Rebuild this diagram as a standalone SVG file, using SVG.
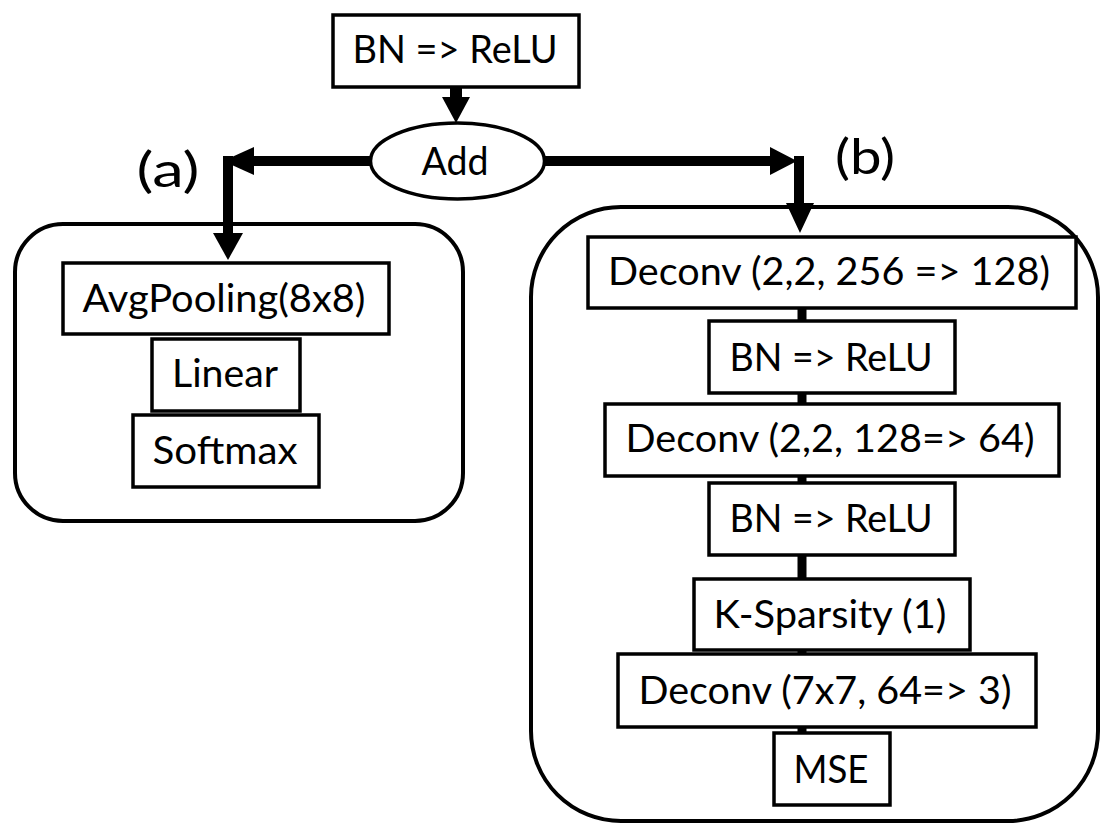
<svg xmlns="http://www.w3.org/2000/svg" width="1101" height="823" viewBox="0 0 1101 823">
  <style>
    .box { fill: #ffffff; stroke: #000000; stroke-width: 3.5; }
    .group { fill: #ffffff; stroke: #000000; stroke-width: 4; }
    .lbl { font-family: Lato, "Open Sans", sans-serif; font-size: 39px; fill: #000000; text-anchor: middle; }
    .tag { font-family: Lato, "Open Sans", sans-serif; font-size: 48px; fill: #000000; text-anchor: middle; }
    .wire { stroke: #000000; fill: none; }
    .head { fill: #000000; stroke: none; }
  </style>

  <!-- branch containers -->
  <g id="branch-a">
    <rect class="group" x="15" y="224" width="448" height="297" rx="48" ry="48"/>
    <text class="tag" x="168" y="187" textLength="63" lengthAdjust="spacingAndGlyphs">(a)</text>
  </g>
  <g id="branch-b">
    <rect class="group" x="531" y="207" width="567" height="614" rx="90" ry="90"/>
    <text class="tag" x="865" y="174" textLength="60" lengthAdjust="spacingAndGlyphs">(b)</text>
  </g>

  <!-- connectors -->
  <g id="connectors">
    <!-- BN => ReLU to Add -->
    <line class="wire" x1="456" y1="87" x2="456" y2="99" stroke-width="12"/>
    <polygon class="head" points="442,97 470,97 456,123"/>
    <!-- Add to branch (a) -->
    <line class="wire" x1="372" y1="161" x2="252" y2="161" stroke-width="10"/>
    <polygon class="head" points="254,147 254,175 223,161"/>
    <line class="wire" x1="228" y1="156" x2="228" y2="235" stroke-width="10"/>
    <polygon class="head" points="213,233 243,233 228,260"/>
    <!-- Add to branch (b) -->
    <line class="wire" x1="543" y1="161" x2="772" y2="161" stroke-width="10"/>
    <polygon class="head" points="770,147 770,175 797,161"/>
    <line class="wire" x1="799" y1="156" x2="799" y2="205" stroke-width="10"/>
    <polygon class="head" points="786,203 814,203 800,233"/>
    <!-- decoder chain -->
    <line class="wire" x1="802" y1="308" x2="802" y2="321" stroke-width="9"/>
    <line class="wire" x1="802" y1="393" x2="802" y2="404" stroke-width="9"/>
    <line class="wire" x1="802" y1="476" x2="802" y2="483" stroke-width="9"/>
    <line class="wire" x1="802" y1="555" x2="802" y2="579" stroke-width="9"/>
    <line class="wire" x1="802" y1="650" x2="802" y2="654" stroke-width="9"/>
    <line class="wire" x1="802" y1="727" x2="802" y2="733" stroke-width="9"/>
  </g>

  <!-- trunk -->
  <g id="bn-relu-top">
    <rect class="box" x="333" y="15" width="246" height="72"/>
    <text class="lbl" x="455" y="63" textLength="205" lengthAdjust="spacingAndGlyphs">BN =&gt; ReLU</text>
  </g>
  <g id="add">
    <ellipse class="box" cx="457.5" cy="161" rx="87" ry="38"/>
    <text class="lbl" x="455" y="175" textLength="67" lengthAdjust="spacingAndGlyphs">Add</text>
  </g>

  <!-- branch (a): classifier -->
  <g id="avgpool">
    <rect class="box" x="63" y="263" width="326" height="71"/>
    <text class="lbl" x="224" y="312" textLength="283" lengthAdjust="spacingAndGlyphs">AvgPooling(8x8)</text>
  </g>
  <g id="linear">
    <rect class="box" x="152" y="339" width="148" height="72"/>
    <text class="lbl" x="225" y="387" textLength="106" lengthAdjust="spacingAndGlyphs">Linear</text>
  </g>
  <g id="softmax">
    <rect class="box" x="133" y="415" width="186" height="72"/>
    <text class="lbl" x="225" y="464" textLength="145" lengthAdjust="spacingAndGlyphs">Softmax</text>
  </g>

  <!-- branch (b): decoder -->
  <g id="deconv-1">
    <rect class="box" x="588" y="237" width="488" height="71"/>
    <text class="lbl" x="829" y="285" textLength="442" lengthAdjust="spacingAndGlyphs">Deconv (2,2, 256 =&gt; 128)</text>
  </g>
  <g id="bn-relu-1">
    <rect class="box" x="709" y="321" width="246" height="72"/>
    <text class="lbl" x="831" y="371" textLength="203" lengthAdjust="spacingAndGlyphs">BN =&gt; ReLU</text>
  </g>
  <g id="deconv-2">
    <rect class="box" x="605" y="404" width="454" height="72"/>
    <text class="lbl" x="830" y="452" textLength="409" lengthAdjust="spacingAndGlyphs">Deconv (2,2, 128=&gt; 64)</text>
  </g>
  <g id="bn-relu-2">
    <rect class="box" x="709" y="483" width="246" height="72"/>
    <text class="lbl" x="831" y="532" textLength="203" lengthAdjust="spacingAndGlyphs">BN =&gt; ReLU</text>
  </g>
  <g id="k-sparsity">
    <rect class="box" x="694" y="579" width="276" height="71"/>
    <text class="lbl" x="830" y="628" textLength="233" lengthAdjust="spacingAndGlyphs">K-Sparsity (1)</text>
  </g>
  <g id="deconv-3">
    <rect class="box" x="618" y="654" width="418" height="73"/>
    <text class="lbl" x="825" y="704" textLength="373" lengthAdjust="spacingAndGlyphs">Deconv (7x7, 64=&gt; 3)</text>
  </g>
  <g id="mse">
    <rect class="box" x="774" y="733" width="116" height="72"/>
    <text class="lbl" x="831" y="783" textLength="75" lengthAdjust="spacingAndGlyphs">MSE</text>
  </g>
</svg>
